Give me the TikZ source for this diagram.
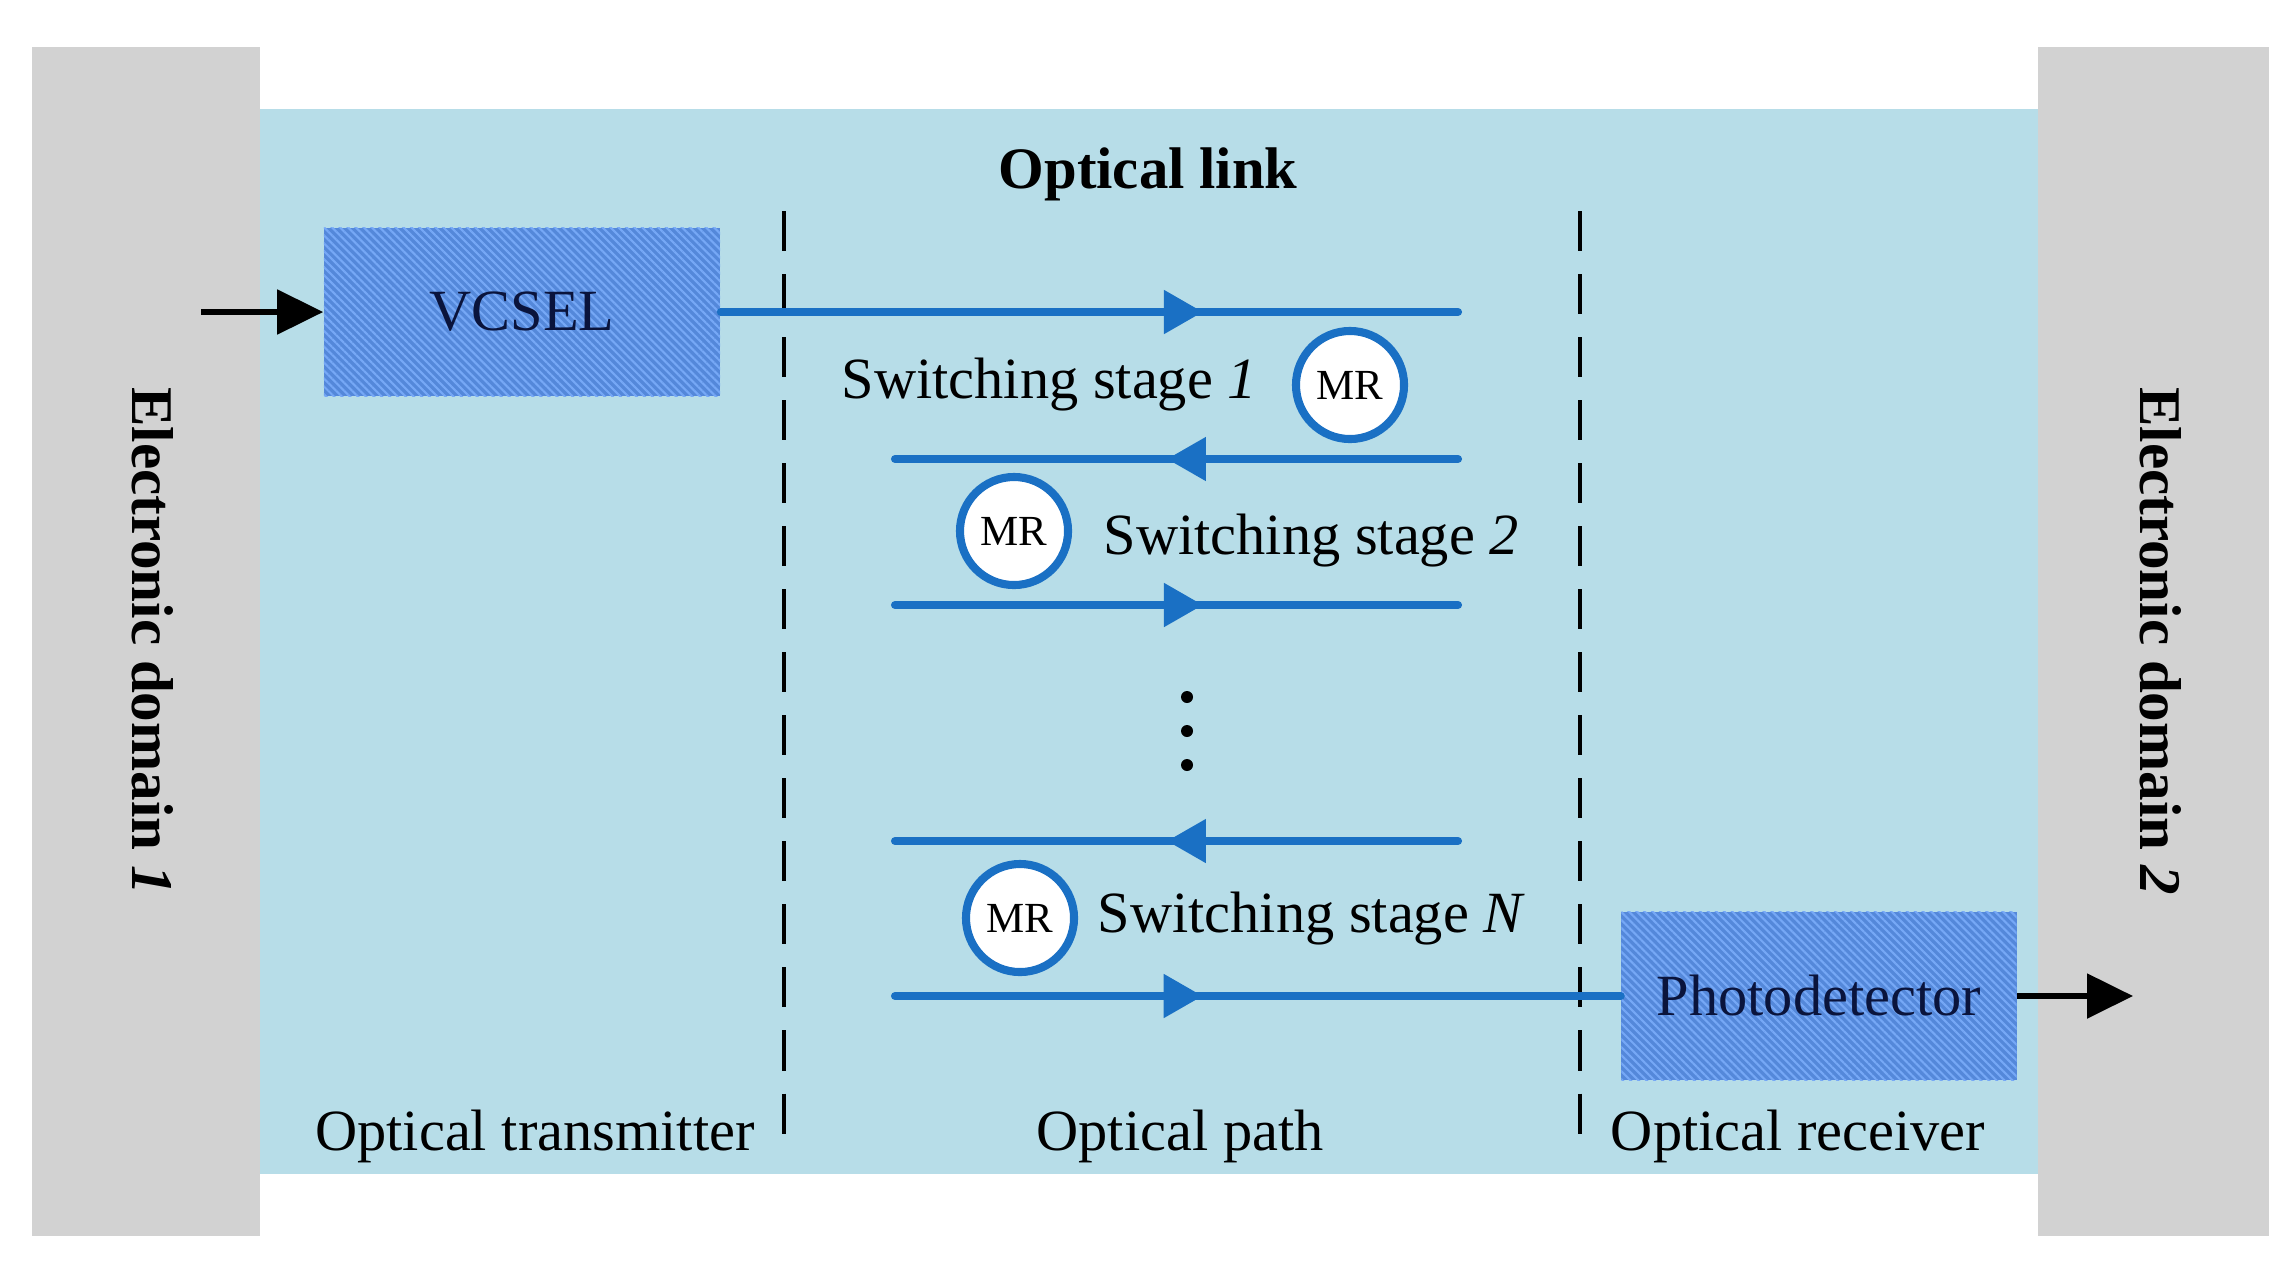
\documentclass[tikz,border=0pt]{standalone}
\usepackage{fontspec}
\setmainfont{Liberation Serif}
\usetikzlibrary{arrows.meta,decorations.markings,patterns.meta}
\definecolor{linkbg}{RGB}{183,221,232}
\definecolor{domaingray}{RGB}{210,210,210}
\definecolor{wgblue}{RGB}{26,112,196}
\definecolor{devfill}{RGB}{84,136,218}
\definecolor{devhatch}{RGB}{118,168,246}
\definecolor{devtext}{RGB}{10,20,60}
\begin{document}
\begin{tikzpicture}
  [x=0.01cm, y=-0.01cm,
  font=\fontsize{16.6}{20}\selectfont,
  device/.style={fill=devfill, postaction={pattern={Lines[angle=-45,distance=1.6pt,line width=0.6pt]}, pattern color=devhatch},
    minimum height=1.68cm, inner sep=0pt, text=devtext},
  ring/.style={circle, draw=wgblue, line width=2.3pt, fill=white, minimum size=1.08cm, inner sep=0pt,
    font=\fontsize{12.2}{14}\selectfont},
  waveguide/.style={wgblue, line width=2.3pt, line cap=round},
  flowmark/.style={postaction={decorate}, decoration={markings,
    mark=at position #1 with {\arrow{Triangle[length=3.9mm,width=4.2mm]}}}},
  sigarrow/.style={line width=1.5pt, -{Triangle[length=4.6mm,width=4.4mm]}},
  section/.style={black, line width=1.1pt, dash pattern=on 0.4cm off 0.23cm},
  domainlabel/.style={rotate=-90, font=\fontsize{16.8}{20}\selectfont\bfseries}]
  \useasboundingbox (0,0) rectangle (2286,1272);
  \fill[white] (0,0) rectangle (2286,1272);
  % electronic domains and optical link background
  \fill[domaingray] (32,47) rectangle (260,1236);
  \fill[domaingray] (2038,47) rectangle (2269,1236);
  \fill[linkbg] (260,109) rectangle (2038,1174);
  \node[domainlabel] (dom1) at (153,641) {Electronic domain \textit{1}};
  \node[domainlabel] (dom2) at (2161,641) {Electronic domain \textit{2}};
  \node[font=\fontsize{16.7}{20}\selectfont\bfseries, anchor=base] (link) at (1148,188) {Optical link};
  % section borders
  \coordinate (d1t) at (784,211);
  \coordinate (d1b) at (784,1152);
  \coordinate (d2t) at (1580,211);
  \coordinate (d2b) at (1580,1152);
  \draw[section] (d1t) -- (d1b);
  \draw[section] (d2t) -- (d2b);
  % devices
  \node[device, minimum width=3.96cm] (vcsel) at (522,312) {VCSEL};
  \node[device, minimum width=3.95cm] (pd) at (1819,996) {Photodetector};
  \coordinate (in) at (201,312);
  \coordinate (out) at (2133,996);
  \draw[sigarrow] (in) -- (vcsel.west);
  \draw[sigarrow] (pd.east) -- (out);
  % waveguides
  \coordinate (w1e) at (1458,312);
  \coordinate (w2w) at (895,459);
  \coordinate (w2e) at (1458,459);
  \coordinate (w3w) at (895,605);
  \coordinate (w3e) at (1458,605);
  \coordinate (w4w) at (895,841);
  \coordinate (w4e) at (1458,841);
  \coordinate (w5w) at (895,996);
  \draw[waveguide, flowmark=0.654] (vcsel.east) -- (w1e);
  \draw[waveguide, flowmark=0.517] (w2e) -- (w2w);
  \draw[waveguide, flowmark=0.547] (w3w) -- (w3e);
  \draw[waveguide, flowmark=0.517] (w4e) -- (w4w);
  \draw[waveguide, flowmark=0.424] (w5w) -- (pd.west);
  % switching stages
  \node[ring] (mr1) at (1350,385) {MR};
  \node[ring] (mr2) at (1014,531) {MR};
  \node[ring] (mrn) at (1020,918) {MR};
  \node[anchor=base west, inner sep=0pt] (st1) at (841,398) {Switching stage \textit{1}};
  \node[anchor=base west, inner sep=0pt] (st2) at (1103,554) {Switching stage \textit{2}};
  \node[anchor=base west, inner sep=0pt] (stn) at (1097,932) {Switching stage \textit{N}};
  \foreach \y/\name in {697/dta, 731/dtb, 765/dtc}
    \fill (1187,\y) circle (6) coordinate (\name);
  % section labels
  \node[anchor=base] (tx) at (535,1150) {Optical transmitter};
  \node[anchor=base] (path) at (1180,1150) {Optical path};
  \node[anchor=base] (rx) at (1798,1150) {Optical receiver};
\end{tikzpicture}
\end{document}
